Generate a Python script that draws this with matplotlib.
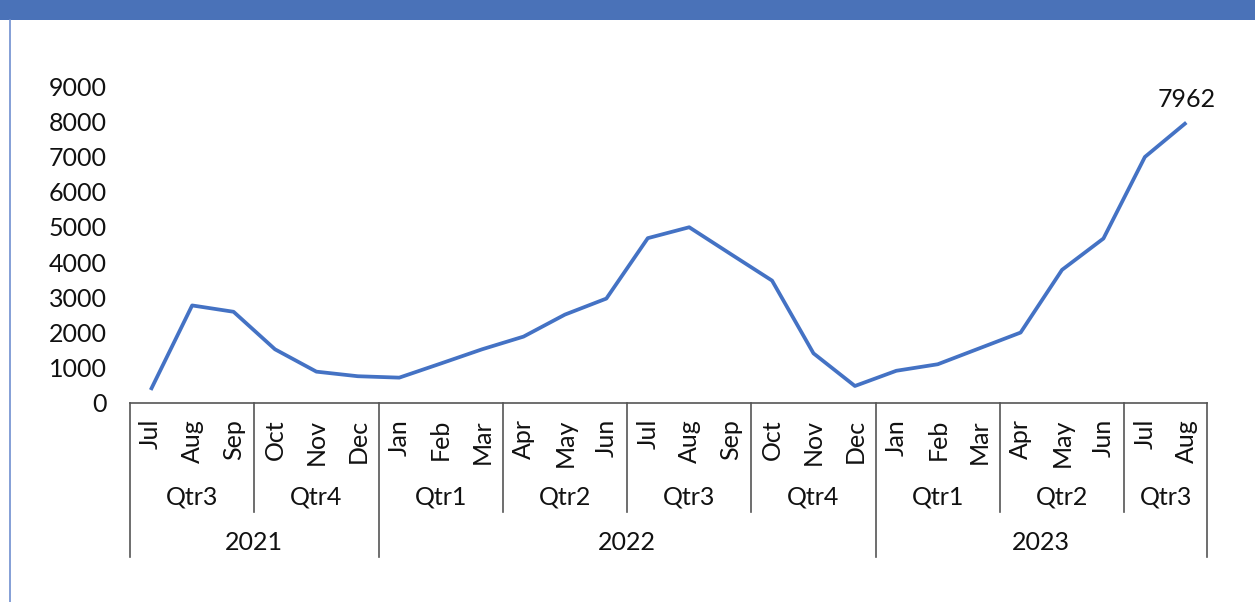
import matplotlib
matplotlib.use("Agg")
import matplotlib.pyplot as plt
import matplotlib.transforms as mtransforms
from matplotlib.patches import Rectangle
from matplotlib.lines import Line2D

months = ['Jul', 'Aug', 'Sep', 'Oct', 'Nov', 'Dec',
          'Jan', 'Feb', 'Mar', 'Apr', 'May', 'Jun',
          'Jul', 'Aug', 'Sep', 'Oct', 'Nov', 'Dec',
          'Jan', 'Feb', 'Mar', 'Apr', 'May', 'Jun', 'Jul', 'Aug']
values = [370, 2770, 2590, 1525, 890, 760,
          720, 1120, 1525, 1885, 2510, 2965,
          4680, 4990, 4230, 3475, 1410, 483,
          915, 1100, 1550, 2000, 3780, 4670, 6985, 7962]
quarter_labels = ['Qtr3', 'Qtr4', 'Qtr1', 'Qtr2', 'Qtr3', 'Qtr4', 'Qtr1', 'Qtr2', 'Qtr3']
quarter_sizes = [3, 3, 3, 3, 3, 3, 3, 3, 2]
year_labels = ['2021', '2022', '2023']
year_sizes = [6, 12, 8]
yticks = [0, 1000, 2000, 3000, 4000, 5000, 6000, 7000, 8000, 9000]

W, H = 1255, 602
plt.rcParams['font.family'] = ['Lato', 'DejaVu Sans']
FS = 18
fig = plt.figure(figsize=(W / 100, H / 100), dpi=100)

def fy(py):
    return 1 - py / H

# header bar and left border
fig.patches.append(Rectangle((0, fy(20)), 1, 20 / H, transform=fig.transFigure,
                             facecolor='#4a72b8', edgecolor='none', zorder=0))
fig.lines.append(Line2D([9.5 / W, 9.5 / W], [0, fy(20)], transform=fig.transFigure,
                        color='#6f8fd0', linewidth=1.2))

ax = fig.add_axes([130 / W, fy(403), (1207 - 130) / W, (403 - 86) / H])
x = list(range(len(values)))
ax.plot(x, values, color='#4472c4', linewidth=2.7, solid_capstyle='butt', clip_on=False)
ax.set_xlim(-0.5, len(values) - 0.5)
ax.set_ylim(0, 9000)
ax.set_yticks(yticks)
ax.set_yticklabels([str(v) for v in yticks], fontsize=FS, color='#111111')
ax.tick_params(axis='y', length=0, pad=16.5)
ax.set_xticks([])
for s in ['top', 'right', 'left']:
    ax.spines[s].set_visible(False)
ax.spines['bottom'].set_color('#555555')
ax.spines['bottom'].set_linewidth(1.2)

ax.annotate(str(values[-1]), (x[-1], values[-1]), xytext=(0, 8), textcoords='offset points',
            ha='center', va='bottom', fontsize=FS, color='#111111')

tr = mtransforms.blended_transform_factory(ax.transData, fig.transFigure)

# month labels
for i, m in enumerate(months):
    ax.text(i, fy(419), m, rotation=90, ha='center', va='top', fontsize=FS,
            transform=tr, color='#111111')

# year boundaries
year_bounds = set()
pos = -0.5
year_bounds.add(pos)
for n in year_sizes:
    pos += n
    year_bounds.add(pos)

# quarter labels
pos = -0.5
for lab, n in zip(quarter_labels, quarter_sizes):
    ax.text(pos + n / 2, fy(497), lab, ha='center', va='center', fontsize=FS,
            transform=tr, color='#111111')
    pos += n

# separators
pos = -0.5
bounds = [pos]
for n in quarter_sizes:
    pos += n
    bounds.append(pos)
for b in bounds:
    bottom = 557 if b in year_bounds else 512
    ax.add_line(Line2D([b, b], [fy(403), fy(bottom)], transform=tr, color='#555555',
                       linewidth=1.2, clip_on=False))

# year labels
pos = -0.5
for lab, n in zip(year_labels, year_sizes):
    ax.text(pos + n / 2, fy(542), lab, ha='center', va='center', fontsize=FS,
            transform=tr, color='#111111')
    pos += n

fig.savefig('out.png', dpi=100)
